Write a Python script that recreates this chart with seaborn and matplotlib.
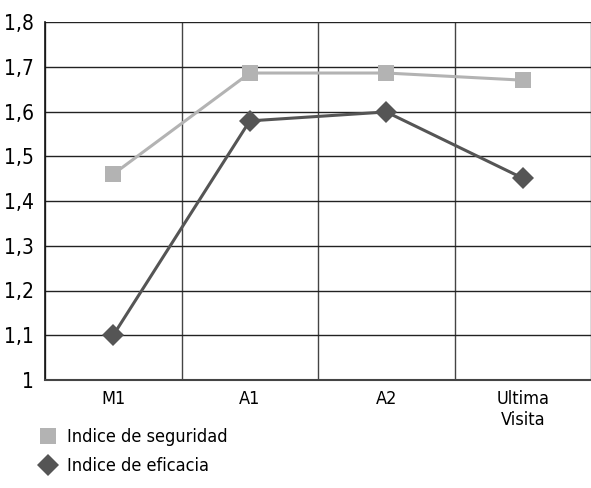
import pandas as pd
import matplotlib.pyplot as plt
import seaborn as sns

visits = ["M1", "A1", "A2", "Ultima\nVisita"]
seguridad = [1.46, 1.686, 1.686, 1.67]
eficacia = [1.10, 1.579, 1.599, 1.451]
yticks = [1.0, 1.1, 1.2, 1.3, 1.4, 1.5, 1.6, 1.7, 1.8]
ytick_labels = ["1", "1,1", "1,2", "1,3", "1,4", "1,5", "1,6", "1,7", "1,8"]

df = pd.DataFrame({
    "visit": visits * 2,
    "value": seguridad + eficacia,
    "serie": ["Indice de seguridad"] * 4 + ["Indice de eficacia"] * 4,
})

sns.set_style("white")
# condensed face to get close to the narrow font of the original
plt.rcParams["font.family"] = ["DejaVu Sans"]
plt.rcParams["font.stretch"] = "condensed"
plt.rcParams["text.color"] = "black"

fig = plt.figure(figsize=(5.91, 4.88), dpi=100)
ax = fig.add_axes([45 / 591, 108 / 488, 1 - 45 / 591, 358 / 488])

palette = {"Indice de seguridad": "#b3b3b3", "Indice de eficacia": "#555555"}
markers = {"Indice de seguridad": "s", "Indice de eficacia": "D"}
sns.lineplot(
    data=df, x="visit", y="value", hue="serie", style="serie",
    palette=palette, markers=markers, dashes=False, markersize=11,
    linewidth=2.2, markeredgewidth=0, ax=ax, sort=False,
)

ax.set_xlim(-0.5, 3.5)
ax.set_ylim(1.0, 1.8)
ax.set_yticks(yticks)
ax.set_yticklabels(ytick_labels, fontsize=15, color="black")
ax.set_xticks(range(4))
ax.set_xticklabels(visits, fontsize=13, color="black")
ax.set_xticks([-0.5, 0.5, 1.5, 2.5, 3.5], minor=True)
ax.tick_params(axis="x", which="major", length=0, pad=7)
ax.tick_params(axis="x", which="minor", length=7, width=1, color="#333333")
ax.tick_params(axis="y", length=5, width=1, color="#333333", pad=3)
ax.grid(True, axis="y", color="#222222", linewidth=1)
ax.grid(True, axis="x", which="minor", color="#444444", linewidth=1)
ax.set_axisbelow(True)

for side in ["top", "right"]:
    ax.spines[side].set_visible(False)
ax.spines["left"].set_color("#111111")
ax.spines["bottom"].set_color("#444444")
ax.spines["left"].set_linewidth(1.2)
ax.spines["bottom"].set_linewidth(1.5)
ax.set_xlabel("")
ax.set_ylabel("")

handles, labels = ax.get_legend_handles_labels()
for h in handles:
    h.set_linestyle("none")
leg = ax.legend(
    handles, labels, loc="upper left", bbox_to_anchor=(-0.045, -0.09),
    frameon=False, fontsize=13, handletextpad=0.5, labelspacing=0.6,
    handlelength=1.2,
)
for t in leg.get_texts():
    t.set_color("black")

fig.savefig("out.png", dpi=100)
